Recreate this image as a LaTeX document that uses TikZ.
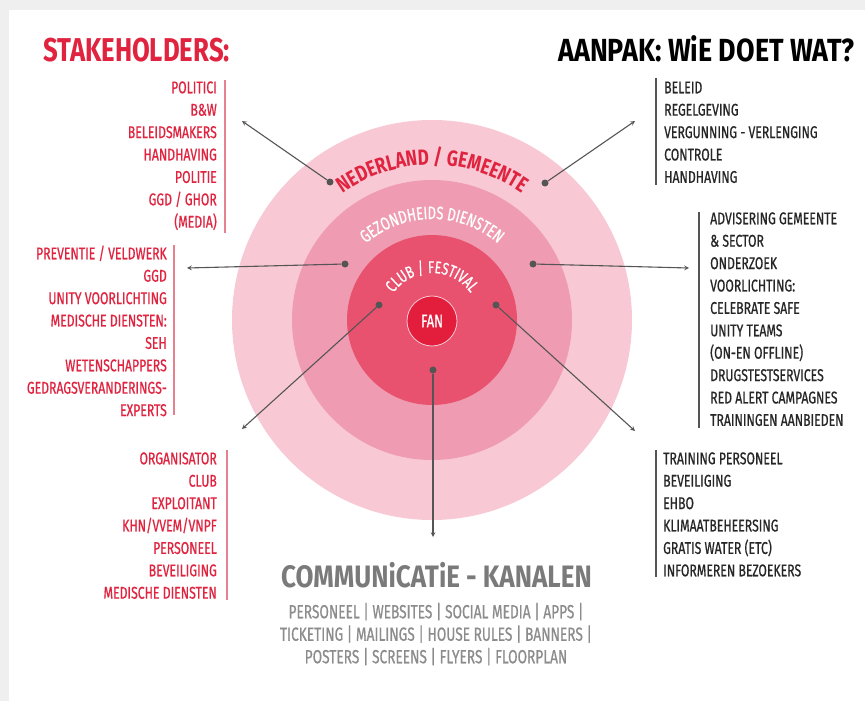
\documentclass[tikz,border=0pt]{standalone}
\usepackage{fontspec}
\usetikzlibrary{decorations.text}

\newfontfamily\condfont[FakeStretch=0.73]{Fira Sans}
\newfontfamily\itemfont[FakeStretch=0.72, FakeBold=0.7]{Fira Sans}
\newfontfamily\headfont[FakeStretch=0.78]{Fira Sans}
\newfontfamily\wideheadfont[FakeStretch=0.84]{Fira Sans}
\newcommand\listfont{\itemfont\fontsize{17}{22.4}\selectfont}
\newcommand\chanfont{\itemfont\fontsize{19}{22.5}\selectfont}

\definecolor{framegray}{HTML}{EFEFEF}
\definecolor{ringout}{HTML}{F8C9D5}
\definecolor{ringmid}{HTML}{EF9BB1}
\definecolor{ringin}{HTML}{E8526F}
\definecolor{fanred}{HTML}{E31D3C}
\definecolor{stakered}{HTML}{E0233F}
\definecolor{barred}{HTML}{E6828F}
\definecolor{arrowgray}{HTML}{555555}
\definecolor{changray}{HTML}{7A7A7A}
\definecolor{chanlight}{HTML}{8C8C8C}

\tikzset{
    redlist/.style={text=stakered, align=right, anchor=north east, inner sep=0pt, font=\listfont},
    blacklist/.style={text=black!85, align=left, anchor=north west, inner sep=0pt, font=\listfont},
    redbar/.style={barred, line width=1.3pt},
    blackbar/.style={arrowgray, line width=1.3pt},
    hub/.style={circle, fill=arrowgray, inner sep=0pt, minimum size=7pt},
    spoke/.style={-stealth, arrowgray, line width=1.1pt},
    fanring/.style={circle, fill=fanred, draw=ringout, line width=0.8pt, minimum size=50pt,
        inner sep=0pt, text=white, font=\itemfont\fontsize{18}{18}\selectfont},
    ringtext/.style={decorate, decoration={text along path, text align=center, text color=#1}}
}

\begin{document}
\begin{tikzpicture}[x=1pt, y=1pt]
    \useasboundingbox (0,0) rectangle (865,-701);
    \fill[framegray] (0,0) rectangle (865,-701);
    \fill[white] (9,-10) rectangle (865,-701);

    \fill[ringout](432,-320) circle (200pt);
    \fill[ringmid](432,-320) circle (140pt);
    \fill[ringin](432,-320) circle (85pt);
    \node[fanring] (fan) at(432,-321){FAN};

    \path[ringtext=stakered, decoration={text={|\headfont\bfseries\fontsize{22}{22}\selectfont|NEDERLAND / GEMEENTE}}]
        (432,-320) ++(178:155pt) arc[start angle=178, end angle=2, radius=155pt];
    \path[ringtext=white, decoration={text={|\itemfont\fontsize{18}{18}\selectfont|GEZONDHEIDS DIENSTEN}}]
        (432,-320) ++(178:101pt) arc[start angle=178, end angle=2, radius=101pt];
    \path[ringtext=white, decoration={text={|\itemfont\fontsize{17}{17}\selectfont|CLUB / FESTIVAL}}]
        (432,-320) ++(178:47pt) arc[start angle=178, end angle=2, radius=47pt];

    \node[hub] (nlw) at(330,-182){};
    \node[hub] (nle) at(545,-183){};
    \node[hub] (gzw) at(345,-264){};
    \node[hub] (gze) at(533,-264){};
    \node[hub] (clw) at(379,-305){};
    \node[hub] (cle) at(496,-305){};
    \node[hub] (cls) at(433,-370){};
    \coordinate (tipnlw) at(242,-121);
    \coordinate (tipnle) at(635,-121);
    \coordinate (tipgzw) at(187,-268);
    \coordinate (tipgze) at(689,-268);
    \coordinate (tipclw) at(242,-429);
    \coordinate (tipcle) at(635,-431);
    \coordinate (tipcls) at(433,-537);
    \draw[spoke] (nlw) -- (tipnlw);
    \draw[spoke] (nle) -- (tipnle);
    \draw[spoke] (gzw) -- (tipgzw);
    \draw[spoke] (gze) -- (tipgze);
    \draw[spoke] (clw) -- (tipclw);
    \draw[spoke] (cle) -- (tipcle);
    \draw[spoke] (cls) -- (tipcls);

    \node[anchor=base west, inner sep=0pt, text=stakered, font=\headfont\bfseries\fontsize{33}{33}\selectfont] (stake) at(43,-62){STAKEHOLDERS:};
    \node[anchor=base east, inner sep=0pt, text=black, font=\wideheadfont\bfseries\fontsize{32}{32}\selectfont] (aanpak) at(855,-62){AANPAK: WiE DOET WAT?};

    \node[redlist] (politiek) at(217,-77.4){\strut POLITICI\\B\&W\\BELEIDSMAKERS\\HANDHAVING\\POLITIE\\GGD / GHOR\\(MEDIA)};
      \draw[redbar](225,-80) -- (225,-233);
    \node[redlist] (zorg) at(167,-243.4){\strut PREVENTIE / VELDWERK\\GGD\\UNITY VOORLICHTING\\MEDISCHE DIENSTEN:\\SEH\\WETENSCHAPPERS\\GEDRAGSVERANDERINGS-\\EXPERTS};
      \draw[redbar](174,-245) -- (174,-415);
    \node[redlist] (branche) at(217,-448.4){\strut ORGANISATOR\\CLUB\\EXPLOITANT\\KHN/VVEM/VNPF\\PERSONEEL\\BEVEILIGING\\MEDISCHE DIENSTEN};
      \draw[redbar](227,-450) -- (227,-600);

    \node[blacklist] (beleid) at(664,-77.4){\strut BELEID\\REGELGEVING\\VERGUNNING - VERLENGING\\CONTROLE\\HANDHAVING};
      \draw[blackbar](656,-78) -- (656,-185);
    \node[blacklist] (advies) at(710,-208.4){\strut ADVISERING GEMEENTE\\\& SECTOR\\ONDERZOEK\\VOORLICHTING:\\CELEBRATE SAFE\\UNITY TEAMS\\(ON-EN OFFLINE)\\DRUGSTESTSERVICES\\RED ALERT CAMPAGNES\\TRAININGEN AANBIEDEN};
      \draw[blackbar](699,-212) -- (699,-428);
    \node[blacklist] (veilig) at(663,-448.4){\strut TRAINING PERSONEEL\\BEVEILIGING\\EHBO\\KLIMAATBEHEERSING\\GRATIS WATER (ETC)\\INFORMEREN BEZOEKERS};
      \draw[blackbar](656,-450) -- (656,-577);

    \node[anchor=base, inner sep=0pt, text=changray, font=\wideheadfont\bfseries\fontsize{31}{31}\selectfont] (kanalen) at(436.5,-587){COMMUNiCATiE - KANALEN};
    \node[anchor=north, align=center, inner sep=0pt, text=chanlight, font=\chanfont] (middelen) at(436,-602.3){\strut PERSONEEL | WEBSITES | SOCIAL MEDIA | APPS |\\TICKETING | MAILINGS | HOUSE RULES | BANNERS |\\POSTERS | SCREENS | FLYERS | FLOORPLAN};
\end{tikzpicture}
\end{document}
